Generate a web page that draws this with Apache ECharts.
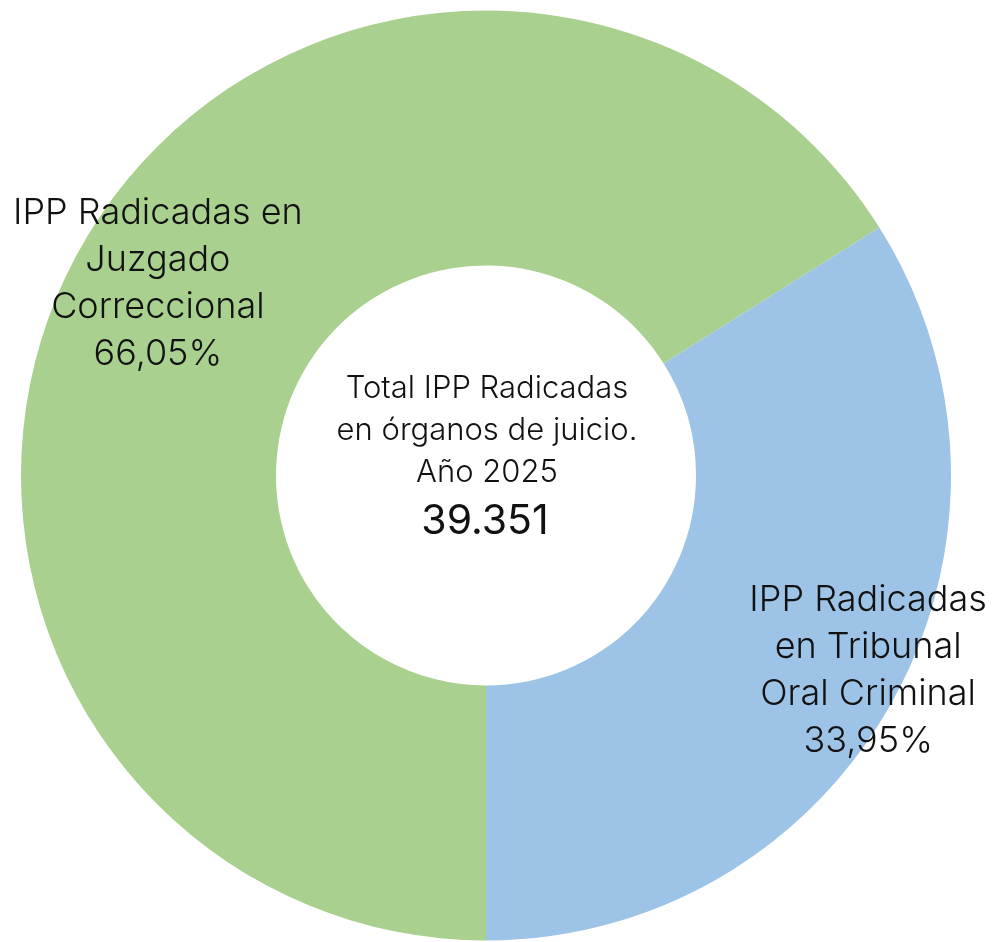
<!DOCTYPE html>
<html>
<head>
<meta charset="utf-8">
<script src="https://cdn.jsdelivr.net/npm/echarts@6/dist/echarts.min.js"></script>
<style>
  html, body { margin: 0; padding: 0; background: #fff; }
  #chart { width: 995px; height: 942px; }
</style>
</head>
<body>
<div id="chart"></div>
<script>
// datos del gráfico
const categories = ['IPP Radicadas en\nJuzgado\nCorreccional', 'IPP Radicadas\nen Tribunal\nOral Criminal'];
const values = [25991, 13360];
const colors = ['#a9d08e', '#9dc3e6'];
const centerLines = ['Total IPP Radicadas', 'en órganos de juicio.', 'Año 2025'];
const total = values.reduce((a, b) => a + b, 0);

const FONT = 'Inter';
const chart = echarts.init(document.getElementById('chart'));

// desplazamiento de cada etiqueta respecto a su posición "inside"
const labelOffsets = [[-30, -27], [84, 31]];

const option = {
  animation: false,
  color: colors,
  series: [{
    type: 'pie',
    center: [486, 475.5],
    radius: [210, 465],
    startAngle: -90,
    clockwise: true,
    avoidLabelOverlap: false,
    label: {
      show: true,
      position: 'inside',
      color: '#111',
      fontFamily: FONT,
      fontWeight: 300,
      fontSize: 36,
      lineHeight: 47,
      align: 'center',
      formatter: p => p.name + '\n' + p.percent.toFixed(2).replace('.', ',') + '%'
    },
    labelLine: { show: false },
    itemStyle: { borderWidth: 0 },
    data: categories.map((c, i) => ({
      name: c,
      value: values[i],
      label: { offset: labelOffsets[i] }
    }))
  }],
  graphic: [
    {
      type: 'text',
      x: 487, y: 431,
      style: {
        text: centerLines.join('\n'),
        fontFamily: FONT,
        fontWeight: 300,
        fontSize: 31,
        lineHeight: 42,
        fill: '#111',
        align: 'center',
        verticalAlign: 'middle'
      }
    },
    {
      type: 'text',
      x: 485, y: 522,
      style: {
        text: total.toLocaleString('de-DE'),
        fontFamily: FONT,
        fontWeight: 400,
        fontSize: 41,
        fill: '#111',
        align: 'center',
        verticalAlign: 'middle'
      }
    }
  ]
};
chart.setOption(option);
</script>
</body>
</html>
